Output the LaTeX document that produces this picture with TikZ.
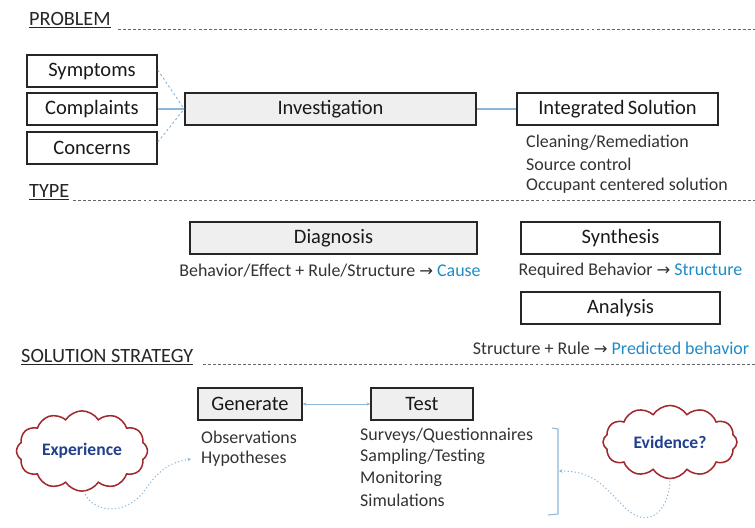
\documentclass[tikz,border=0pt]{standalone}
\usepackage{fontspec}
\setmainfont{Carlito}
\newfontfamily\arrfont{DejaVu Sans}
\usetikzlibrary{shapes.symbols,calc,arrows.meta}
\definecolor{txt}{HTML}{333333}
\definecolor{lblue}{HTML}{8DB6D6}
\definecolor{cblue}{HTML}{1E8BC8}
\definecolor{dblue}{HTML}{23408E}
\definecolor{cloudred}{HTML}{A0282E}
\definecolor{boxgray}{HTML}{EFEFEF}
\newcommand{\arr}{{\arrfont\fontsize{14}{16}\selectfont →}}
\tikzset{
  px/.style={x=0.03cm,y=-0.03cm},
  box/.style={draw=black!85,line width=1.4pt,minimum height=0.96cm,inner sep=0pt,font=\fontsize{17.5}{20}\selectfont,text=black!90},
  graybox/.style={box,fill=boxgray},
  body/.style={font=\fontsize{15.3}{18}\selectfont,text=txt,inner sep=0pt,anchor=west},
  head/.style={font=\fontsize{17.3}{20}\selectfont,text=black!85,inner sep=0pt,anchor=west},
  rule/.style={draw=black!60,dash pattern=on 2.5pt off 1.8pt,line width=0.6pt},
  conn/.style={draw=lblue,line width=0.9pt},
  dconn/.style={draw=lblue,line width=0.8pt,dash pattern=on 2pt off 2pt},
  dotc/.style={draw=lblue,line width=0.9pt,dash pattern=on 1pt off 2pt},
  cl/.style={cloud,cloud puffs=12,cloud puff arc=115,aspect=1.7,draw=cloudred,line width=1.3pt,fill=white,font=\bfseries\fontsize{15}{18}\selectfont,text=dblue,inner sep=0pt},
}
\begin{document}
\begin{tikzpicture}[px]
\useasboundingbox (0,0) rectangle (755,527);
% headings
\node[head] (ph) at (29,20) {\underline{PROBLEM}};
\draw[rule] (118,29) -- (755,29);
\node[head] (th) at (29,192) {\underline{TYPE}};
\draw[rule] (73,200) -- (755,200);
\node[head] (sh) at (21,357) {\underline{SOLUTION STRATEGY}};
\draw[rule] (203,364) -- (755,364);
% problem row
\node[box,minimum width=3.9cm] (sym) at (92,71) {Symptoms};
\node[box,minimum width=3.9cm] (comp) at (92,109) {Complaints};
\node[box,minimum width=3.9cm] (conc) at (92,148) {Concerns};
\node[graybox,minimum width=8.73cm] (inv) at (330.5,109) {Investigation};
\node[box,minimum width=6.03cm] (integ) at (617.5,109) {Integrated\,Solution};
\draw[dconn] ($(sym.east)+(0,-1)$) -- (inv.west);
\draw[conn] (comp.east) -- (inv.west);
\draw[dconn] ($(conc.east)+(0,-6)$) -- (inv.west);
\draw[conn] (inv.east) -- (integ.west);
\node[body] (t1) at (526,143) {Cleaning/Remediation};
\node[body] (t2) at (526,164) {Source control};
\node[body] (t3) at (526,186) {Occupant centered solution};
% type row
\node[graybox,minimum width=8.61cm] (diag) at (333.5,238) {Diagnosis};
\node[box,minimum width=5.97cm] (synth) at (620.5,238) {Synthesis};
\node[box,minimum width=5.97cm] (anal) at (620.5,308) {Analysis};
\node[body,anchor=center] (dt) at (330,271) {Behavior/Effect + Rule/Structure \arr\ \textcolor{cblue}{Cause}};
\node[body,anchor=center] (st) at (630.5,271) {Required Behavior \arr\ \textcolor{cblue}{Structure}};
\node[body,anchor=center] (at) at (611,348) {Structure + Rule \arr\ \textcolor{cblue}{Predicted behavior}};
% strategy row
\node[graybox,minimum width=3.12cm] (gen) at (250,404) {Generate};
\node[graybox,minimum width=3.06cm] (test) at (422,404) {Test};
\draw[conn,line width=0.7pt,{Stealth[length=3pt,width=3pt]}-{Stealth[length=3pt,width=3pt]}] (gen.east) -- (test.west);
\node[body] (o1) at (201,437) {Observations};
\node[body] (hyp) at (201,459) {Hypotheses};
\node[body] (s1) at (360,436) {Surveys/Questionnaires};
\node[body] (s2) at (360,457) {Sampling/Testing};
\node[body] (s3) at (360,479) {Monitoring};
\node[body] (s4) at (360,500) {Simulations};
% bracket
\coordinate (bt) at (558,429);
\coordinate (bb) at (558,514);
\coordinate (bm) at (559,471);
\draw[conn] ($(bt)+(-6,-1)$) -- (bt) -- (bb) -- ($(bb)+(-10,1)$);
% clouds
\node[cl,minimum width=3.93cm,minimum height=2.3cm] (exp) at (82,451) {Experience};
\node[cl,minimum width=4.02cm,minimum height=2.13cm] (evid) at (670,442) {Evidence?};
\draw[dotc,-{Stealth[length=3pt,width=3pt]}] ($(exp.south)+(2,-1)$) .. controls (90,512) and (125,518) .. (145,490) .. controls (160,468) and (172,462) .. ($(hyp.west)+(-10,0)$);
\draw[dotc,-{Stealth[length=3pt,width=3pt]}] ($(evid.south)+(0,-2)$) .. controls (670,508) and (652,528) .. (630,512) .. controls (608,494) and (600,471) .. (bm);
\end{tikzpicture}
\end{document}
